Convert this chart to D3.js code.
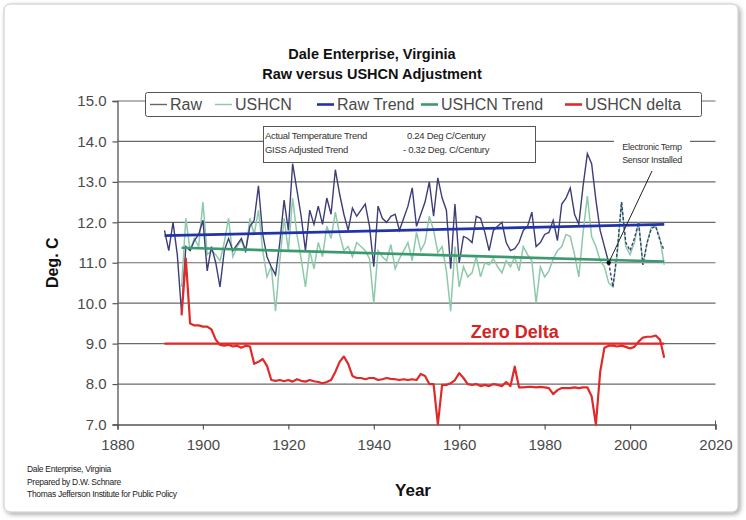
<!DOCTYPE html>
<html>
<head>
<meta charset="utf-8">
<script src="https://cdn.jsdelivr.net/npm/d3@7"></script>
<style>
  html, body { margin: 0; padding: 0; background: #fff; }
  svg { display: block; font-family: "Liberation Sans", Arial, sans-serif; }
</style>
</head>
<body>
<svg id="chart" width="746" height="520"></svg>
<script>
// ---------------- DATA ----------------
const rawStartYear = 1891;
const rawValues = [
  11.8, 11.3, 12.0, 11.2, 9.75, 11.4, 11.3, 11.55, 11.7,          // 1891-1899
  12.05, 10.8, 11.4, 11.0, 10.4, 11.3, 11.6, 11.3, 11.45, 11.6,    // 1900-1909
  11.3, 11.9, 12.05, 12.9, 11.7, 11.15, 10.9, 10.7, 11.5, 12.55,   // 1910-1919
  11.8, 13.45, 12.8, 12.15, 11.3, 12.3, 11.95, 12.4, 11.95, 12.6,  // 1920-1929
  12.2, 13.3, 12.7, 12.2, 11.8, 12.35, 12.15, 12.3, 12.45, 11.9,   // 1930-1939
  10.9, 12.4, 12.1, 12.0, 12.15, 12.2, 11.8, 12.1, 12.4, 12.85,    // 1940-1949
  11.9, 12.2, 12.5, 13.0, 12.15, 13.1, 12.6, 12.3, 10.85, 12.45,   // 1950-1959
  11.0, 11.65, 11.6, 11.5, 12.15, 12.1, 11.75, 11.3, 11.8, 11.9,   // 1960-1969
  12.0, 11.5, 11.3, 11.35, 11.5, 11.8, 11.9, 12.25, 11.4, 11.5,    // 1970-1979
  11.7, 11.75, 12.05, 11.55, 12.45, 12.6, 12.85, 12.2, 11.95, 12.9,// 1980-1989
  13.7, 13.45, 12.55, 11.8, 11.4, 11.0, 10.4, 11.3, 12.5, 11.5,    // 1990-1999
  11.3, 11.6, 12.0, 10.95, 11.5, 11.85, 11.9, 11.55, 11.3          // 2000-2008
];
const sensorYear = 1995;

const ushcnStartYear = 1895;
const ushcnValues = [
  10.4, 12.1, 11.3, 11.6, 11.4,                                     // 1895-1899
  12.5, 11.2, 11.3, 11.2, 11.05, 11.5, 12.1, 11.15, 11.4, 11.55,    // 1900-1909
  11.25, 12.1, 11.7, 12.3, 11.3, 10.65, 10.9, 9.8, 11.05, 12.1,     // 1910-1919
  11.3, 12.6, 11.7, 11.1, 10.4, 11.3, 10.85, 11.5, 11.15, 11.9,     // 1920-1929
  11.6, 12.25, 11.7, 11.3, 11.4, 11.15, 11.5, 11.4, 11.3, 11.1,     // 1930-1939
  10.0, 11.3, 11.15, 11.05, 11.45, 10.85, 11.1, 11.3, 11.5, 11.05,  // 1940-1949
  11.75, 11.3, 11.5, 12.15, 11.8, 11.25, 11.4, 10.8, 9.8, 11.4,     // 1950-1959
  10.4, 10.9, 10.65, 10.75, 11.15, 10.65, 11.0, 10.95, 11.1, 10.9,  // 1960-1969
  10.75, 11.05, 10.9, 11.15, 10.8, 11.4, 11.2, 11.05, 10.0, 10.9,   // 1970-1979
  10.65, 10.8, 11.1, 11.3, 11.4, 11.7, 11.65, 11.2, 10.65, 11.75,   // 1980-1989
  12.65, 11.65, 11.4, 11.05, 10.9, 10.5, 10.4, 11.2, 12.5, 11.4,    // 1990-1999
  11.2, 11.5, 12.0, 10.95, 11.5, 11.9, 11.9, 11.6, 10.95            // 2000-2008
];

const deltaStartYear = 1895;
const deltaValues = [
  9.7, 11.1, 9.5, 9.45, 9.45,                                       // 1895-1899
  9.42, 9.42, 9.35, 9.1, 8.97, 8.95, 8.97, 8.93, 8.95, 8.9,         // 1900-1909
  8.95, 8.93, 8.5, 8.55, 8.62, 8.45, 8.1, 8.08, 8.1, 8.07,          // 1910-1919
  8.1, 8.06, 8.12, 8.08, 8.06, 8.1, 8.07, 8.05, 8.02, 8.05,         // 1920-1929
  8.1, 8.3, 8.55, 8.68, 8.5, 8.2, 8.15, 8.15, 8.12, 8.15,           // 1930-1939
  8.15, 8.1, 8.12, 8.15, 8.13, 8.12, 8.1, 8.12, 8.1, 8.12,          // 1940-1949
  8.1, 8.25, 8.2, 8.0, 8.0, 7.0, 7.98, 7.98, 8.02, 8.1,             // 1950-1959
  8.27, 8.15, 8.0, 7.98, 8.0, 7.95, 7.98, 7.95, 8.0, 7.98,          // 1960-1969
  7.95, 8.05, 7.95, 8.43, 7.92, 7.92, 7.93, 7.93, 7.92, 7.93,       // 1970-1979
  7.92, 7.9, 7.75, 7.85, 7.9, 7.9, 7.9, 7.92, 7.9, 7.92,            // 1980-1989
  7.92, 7.7, 7.0, 8.3, 8.9, 8.95, 8.95, 8.93, 8.95, 8.92,           // 1990-1999
  8.88, 8.92, 9.05, 9.15, 9.17, 9.17, 9.2, 9.1, 8.65                // 2000-2008
];

const rawTrend = [{year: 1891, v: 11.67}, {year: 2008, v: 11.95}];
const ushcnTrend = [{year: 1895, v: 11.37}, {year: 2008, v: 11.03}];
const zeroDelta = [{year: 1891, v: 9.0}, {year: 2008, v: 9.0}];

const xTicks = [1880, 1900, 1920, 1940, 1960, 1980, 2000, 2020];
const yTicks = [7, 8, 9, 10, 11, 12, 13, 14, 15];

const legendLabels = ["Raw", "USHCN", "Raw Trend", "USHCN Trend", "USHCN delta"];
const titleLines = ["Dale Enterprise, Virginia", "Raw versus USHCN Adjustment"];
const infoLines = [["Actual Temperature Trend", "0.24 Deg C/Century"],
                   ["GISS Adjusted Trend", "- 0.32 Deg. C/Century"]];
const sensorNote = ["Electronic Temp", "Sensor Installed"];
const creditLines = ["Dale Enterprise, Virginia", "Prepared by D.W. Schnare",
                     "Thomas Jefferson Institute for Public Policy"];

// ---------------- BUILD ----------------
const toPts = (start, vals) => vals.map((v, i) => ({year: start + i, v}));
const raw = toPts(rawStartYear, rawValues);
const ushcn = toPts(ushcnStartYear, ushcnValues);
const delta = toPts(deltaStartYear, deltaValues);

const svg = d3.select("#chart");
const W = 746, H = 520;
const plot = {left: 117.5, right: 715.5, top: 101, bottom: 424.5};

const x = d3.scaleLinear().domain([1880, 2020]).range([plot.left, plot.right]);
const y = d3.scaleLinear().domain([7, 15]).range([plot.bottom, plot.top]);

const colors = {
  raw: "#3d3d78",
  ushcn: "#8ccaa9",
  rawTrend: "#2233aa",
  ushcnTrend: "#3c9a70",
  delta: "#e02a2a"
};

// outer frame with shadow
const defs = svg.append("defs");
const f = defs.append("filter").attr("id", "sh").attr("x", "-5%").attr("y", "-5%").attr("width", "110%").attr("height", "110%");
f.append("feGaussianBlur").attr("in", "SourceAlpha").attr("stdDeviation", 2.5);
f.append("feOffset").attr("dx", 2).attr("dy", 2).attr("result", "ob");
f.append("feComponentTransfer").append("feFuncA").attr("type", "linear").attr("slope", 0.35);
const fm = f.append("feMerge");
fm.append("feMergeNode");
fm.append("feMergeNode").attr("in", "SourceGraphic");

svg.append("rect").attr("x", 4).attr("y", 4).attr("width", W - 12).attr("height", H - 12)
  .attr("rx", 6).attr("fill", "#fff").attr("stroke", "#c8c8c8").attr("stroke-width", 1)
  .attr("filter", "url(#sh)");

// gridlines
svg.append("g")
  .selectAll("line").data(yTicks.filter(d => d > 7)).join("line")
  .attr("x1", plot.left).attr("x2", plot.right)
  .attr("y1", d => y(d)).attr("y2", d => y(d))
  .attr("stroke", "#6a6a6a").attr("stroke-width", 1.2);

// axes
const yAxis = svg.append("g").attr("transform", `translate(${plot.left},0)`)
  .call(d3.axisLeft(y).tickValues(yTicks).tickFormat(d3.format(".1f")).tickSize(5).tickPadding(6));
const xAxis = svg.append("g").attr("transform", `translate(0,${plot.bottom})`)
  .call(d3.axisBottom(x).tickValues(xTicks).tickFormat(d3.format("d")).tickSize(5).tickPadding(10));
[yAxis, xAxis].forEach(g => {
  g.select(".domain").attr("stroke", "#555").attr("stroke-width", 1.3);
  g.selectAll(".tick line").attr("stroke", "#555").attr("stroke-width", 1.2);
  g.selectAll(".tick text").attr("fill", "#4a4a4a").attr("font-size", 15)
    .attr("font-family", "'Liberation Sans', Arial, sans-serif");
});
// right end tick
svg.append("line").attr("x1", x(2020)).attr("x2", x(2020))
  .attr("y1", plot.bottom - 4).attr("y2", plot.bottom + 5).attr("stroke", "#555");

// lines
const line = d3.line().x(d => x(d.year)).y(d => y(d.v));

svg.append("path").datum(ushcn).attr("d", line)
  .attr("fill", "none").attr("stroke", colors.ushcn).attr("stroke-width", 1.5);

svg.append("path").datum(raw.filter(d => d.year <= sensorYear)).attr("d", line)
  .attr("fill", "none").attr("stroke", colors.raw).attr("stroke-width", 1.4);
svg.append("path").datum(raw.filter(d => d.year >= sensorYear)).attr("d", line)
  .attr("fill", "none").attr("stroke", colors.raw).attr("stroke-width", 1.4)
  .attr("stroke-dasharray", "3,2");

svg.append("path").datum(rawTrend).attr("d", line)
  .attr("fill", "none").attr("stroke", colors.rawTrend).attr("stroke-width", 2.8);
svg.append("path").datum(ushcnTrend).attr("d", line)
  .attr("fill", "none").attr("stroke", colors.ushcnTrend).attr("stroke-width", 2.6);

svg.append("path").datum(zeroDelta).attr("d", line)
  .attr("fill", "none").attr("stroke", colors.delta).attr("stroke-width", 2.2);
svg.append("path").datum(delta).attr("d", line)
  .attr("fill", "none").attr("stroke", colors.delta).attr("stroke-width", 2.2)
  .attr("stroke-linejoin", "round");

// Zero Delta label
svg.append("text").attr("x", x(1973)).attr("y", y(9.0) - 6)
  .attr("text-anchor", "middle").attr("font-size", 18).attr("font-weight", "bold")
  .attr("fill", "#d42424").text("Zero Delta");

// sensor annotation
const sensorPt = raw.find(d => d.year === sensorYear);
svg.append("line").attr("x1", 652).attr("y1", 171)
  .attr("x2", x(sensorPt.year)).attr("y2", y(sensorPt.v))
  .attr("stroke", "#222").attr("stroke-width", 1);
svg.append("circle").attr("cx", x(sensorPt.year)).attr("cy", y(sensorPt.v)).attr("r", 2.2).attr("fill", "#111");
svg.append("rect").attr("x", 614).attr("y", 140).attr("width", 76).attr("height", 26).attr("fill", "#fff");
sensorNote.forEach((t, i) => {
  svg.append("text").attr("x", 652).attr("y", 150 + i * 12.5).attr("text-anchor", "middle")
    .attr("font-size", 9).attr("fill", "#333").attr("letter-spacing", -0.3).text(t);
});

// info box
svg.append("rect").attr("x", 263.5).attr("y", 126.5).attr("width", 272).attr("height", 36)
  .attr("fill", "#fff").attr("stroke", "#555").attr("stroke-width", 1);
infoLines.forEach((row, i) => {
  svg.append("text").attr("x", 265).attr("y", 138.5 + i * 14)
    .attr("font-size", 9.5).attr("fill", "#333").attr("letter-spacing", -0.3).text(row[0]);
  svg.append("text").attr("x", i === 0 ? 407 : 403).attr("y", 138.5 + i * 14)
    .attr("font-size", 9.5).attr("fill", "#333").attr("letter-spacing", -0.3).text(row[1]);
});

// legend
svg.append("rect").attr("x", 145.5).attr("y", 92.5).attr("width", 556).attr("height", 24)
  .attr("rx", 2).attr("fill", "#fff").attr("stroke", "#555").attr("stroke-width", 1);
const legendColors = [colors.raw, colors.ushcn, colors.rawTrend, colors.ushcnTrend, colors.delta];
const legendWidths = [1.4, 1.5, 2.6, 2.6, 2.6];
const legendX = [150, 215, 317, 421, 565];
legendLabels.forEach((lab, i) => {
  svg.append("line").attr("x1", legendX[i]).attr("x2", legendX[i] + 17)
    .attr("y1", 104.5).attr("y2", 104.5)
    .attr("stroke", i === 0 ? "#666" : legendColors[i]).attr("stroke-width", legendWidths[i]);
  svg.append("text").attr("x", legendX[i] + 20).attr("y", 110)
    .attr("font-size", 16).attr("fill", "#4a4a4a").text(lab);
});

// title
titleLines.forEach((t, i) => {
  svg.append("text").attr("x", 372).attr("y", 59 + i * 20).attr("text-anchor", "middle")
    .attr("font-size", 14.5).attr("font-weight", "bold").attr("fill", "#111").text(t);
});

// axis titles
svg.append("text").attr("transform", `translate(58,${(plot.top + plot.bottom) / 2}) rotate(-90)`)
  .attr("text-anchor", "middle").attr("font-size", 16).attr("font-weight", "bold")
  .attr("fill", "#111").text("Deg. C");
svg.append("text").attr("x", 413).attr("y", 496).attr("text-anchor", "middle")
  .attr("font-size", 17).attr("font-weight", "bold").attr("fill", "#111").text("Year");

// credits
creditLines.forEach((t, i) => {
  svg.append("text").attr("x", 27).attr("y", 472 + i * 12.5)
    .attr("font-size", 8.5).attr("fill", "#222").attr("letter-spacing", -0.3).text(t);
});
</script>
</body>
</html>
